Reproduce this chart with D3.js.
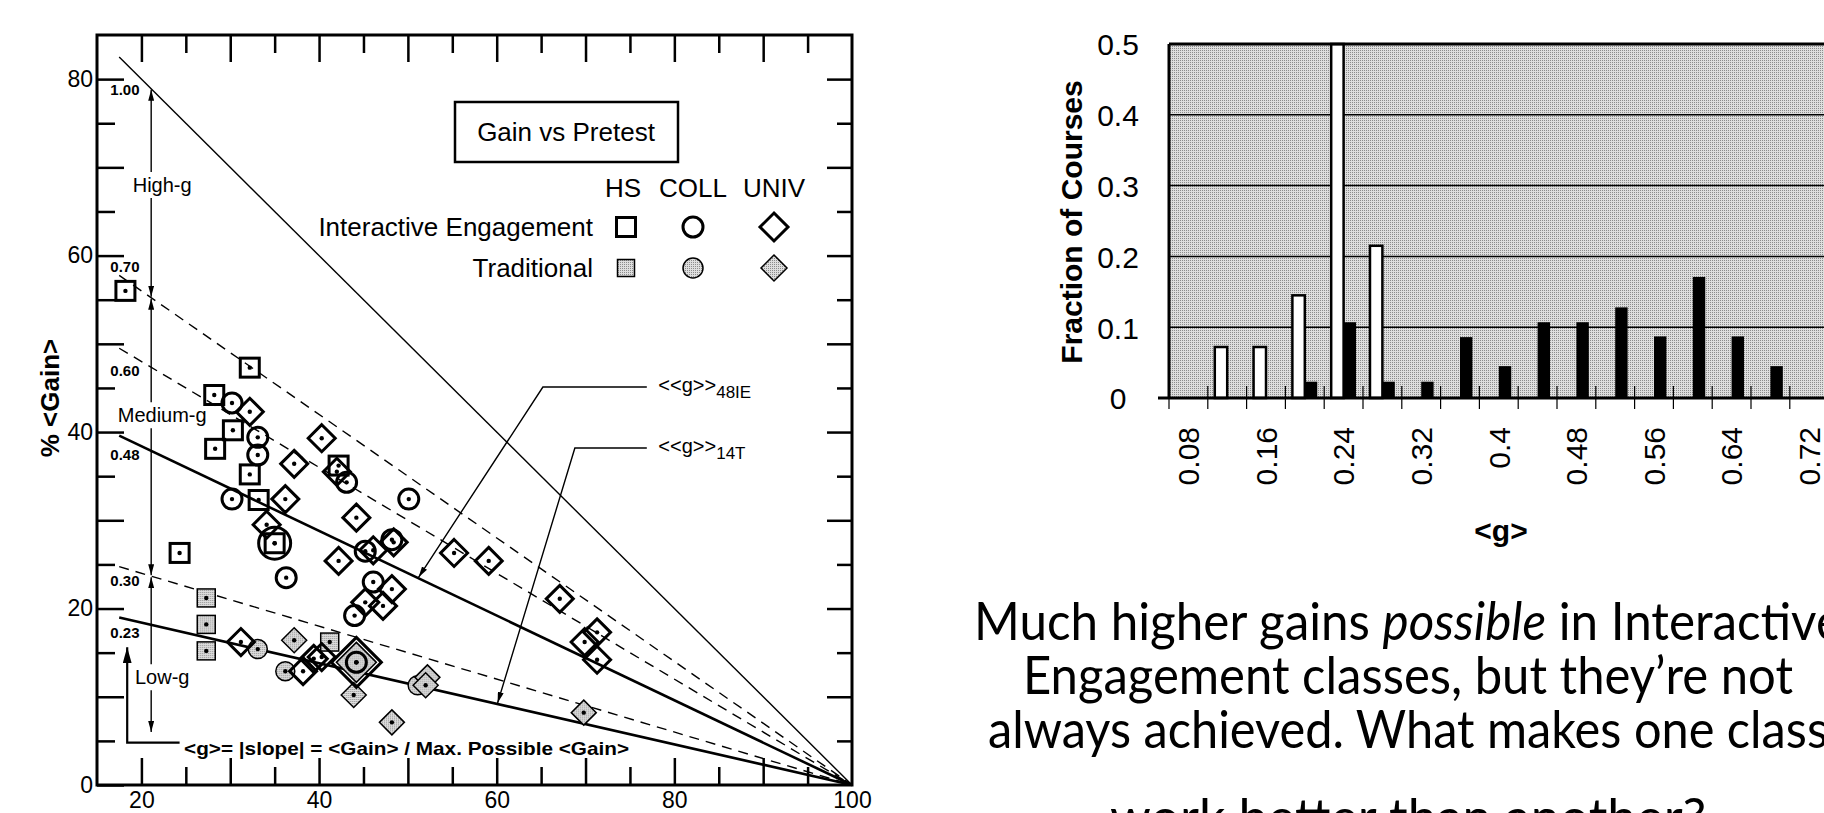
<!DOCTYPE html>
<html lang="en">
<head>
<meta charset="UTF-8">
<script src="https://d3js.org/d3.v7.min.js"></script>
<title>Gain vs Pretest</title>
<style>
  body { margin: 0; background: #fff; overflow: hidden; }
  svg text { font-family: "Liberation Sans", Arial, Helvetica, sans-serif; }
</style>
</head>
<body>
<script>
// ---- scatter: % <Gain> vs pretest ----
var ieHS = [[18.2,56.0],[32.2,47.3],[28.2,44.2],[30.3,40.2],[28.3,38.1],[32.2,35.2],[42.2,36.2],[33.2,32.3],[35.0,27.4],[24.3,26.3]];
var ieColl = [[30.2,43.3],[33.1,39.4],[33.1,37.4],[43.1,34.3],[30.2,32.4],[36.3,23.5],[50.1,32.4],[45.2,26.5],[48.2,27.8],[46.1,23.0],[44.0,19.2],[44.2,13.9]];
var ieCollLarge = [[35.0,27.4]];
var ieUniv = [[32.2,42.3],[40.3,39.3],[37.2,36.4],[42.0,35.5],[36.2,32.4],[44.2,30.3],[34.1,29.5],[42.2,25.4],[46.1,26.6],[48.4,27.5],[48.2,22.2],[45.2,20.7],[47.2,20.3],[31.2,16.2],[38.2,12.9],[39.4,14.3],[40.3,14.5],[55.2,26.3],[59.1,25.4],[67.1,21.1],[71.3,17.3],[69.9,16.2],[71.3,14.2]];
var ieUnivLarge = [[44.2,13.9]];
var trHS = [[27.3,21.2],[27.3,18.2],[27.3,15.2],[41.2,16.2]];
var trColl = [[33.1,15.4],[36.2,12.9],[51.1,11.3]];
var trUniv = [[37.2,16.4],[52.2,12.2],[52.0,11.3],[43.9,10.2],[48.2,7.1],[69.8,8.2]];
var trUnivLarge = [[44.2,13.9]];

var gSlopes = [1.00, 0.70, 0.60, 0.48, 0.30, 0.23];
var gMeans = [0.48, 0.23];
var gTickLabels = ["1.00", "0.70", "0.60", "0.48", "0.30", "0.23"];
var gTickY = [78.8, 58.7, 47.0, 37.4, 23.2, 17.2];
var gRegions = ["High-g", "Medium-g", "Low-g"];
var gRegionBounds = [[1.00, 0.70], [0.70, 0.30], [0.30, 0.075]];
var gRegionLabelY = [68.0, 41.9, 12.2];

// ---- histogram: fraction of courses per <g> bin ----
var gBins = [0.08,0.12,0.16,0.20,0.24,0.28,0.32,0.36,0.40,0.44,0.48,0.52,0.56,0.60,0.64,0.68,0.72];
var tradFraction = [0,0.072,0.072,0.145,0.5,0.215,0,0,0,0,0,0,0,0,0,0,0];
var ieFraction = [0,0,0,0.023,0.107,0.023,0.023,0.086,0.045,0.107,0.107,0.128,0.087,0.171,0.087,0.045,0];
var binLabels = ["0.08","0.16","0.24","0.32","0.4","0.48","0.56","0.64","0.72"];
var fracTicks = [0, 0.1, 0.2, 0.3, 0.4, 0.5];

var svg = d3.select("body").append("svg").attr("width", 1824).attr("height", 813);
var defs = svg.append("defs");

var pat = defs.append("pattern").attr("id", "stip")
  .attr("width", 2).attr("height", 2).attr("patternUnits", "userSpaceOnUse");
pat.append("rect").attr("width", 2).attr("height", 2).attr("fill", "#dedede");
pat.append("rect").attr("width", 1).attr("height", 1).attr("fill", "#8c8c8c");

function arrowDef(id, len, wid) {
  defs.append("marker").attr("id", id)
    .attr("viewBox", "0 0 " + len + " " + wid)
    .attr("refX", len).attr("refY", wid / 2)
    .attr("markerWidth", len).attr("markerHeight", wid)
    .attr("markerUnits", "userSpaceOnUse")
    .attr("orient", "auto-start-reverse")
    .append("path").attr("d", "M0,0L" + len + "," + (wid / 2) + "L0," + wid + "Z").attr("fill", "#000");
}
arrowDef("arr", 11, 6);
arrowDef("bigArr", 16, 9);

// =================== left: scatter ===================
var sx = d3.scaleLinear().domain([15, 100]).range([97, 852]);
var sy = d3.scaleLinear().domain([0, 85]).range([785, 35]);
var sc = svg.append("g");

function tickSet(axisFn, vals, len, tr, fmt) {
  var a = axisFn.tickValues(vals).tickSizeInner(-len).tickSizeOuter(0).tickPadding(6)
    .tickFormat(fmt || function () { return ""; });
  var g = sc.append("g").attr("transform", tr).call(a);
  g.select(".domain").remove();
  g.selectAll("line").attr("stroke", "#000").attr("stroke-width", 2.5);
  g.attr("font-family", null).attr("font-size", 23);
  return g;
}
var every20 = function (d) { return d % 20 === 0 ? d : ""; };
tickSet(d3.axisBottom(sx), d3.range(20, 100, 10), 27, "translate(0,785)", every20).selectAll("text").attr("dy", "0.74em");
tickSet(d3.axisBottom(sx), d3.range(25, 100, 10), 18, "translate(0,785)");
tickSet(d3.axisBottom(sx), [100], 0, "translate(0,785)", every20).selectAll("text").attr("dy", "0.74em");
tickSet(d3.axisTop(sx), d3.range(20, 100, 10), 27, "translate(0,35)");
tickSet(d3.axisTop(sx), d3.range(25, 100, 10), 18, "translate(0,35)");
tickSet(d3.axisLeft(sy), d3.range(0, 81, 10), 27, "translate(97,0)", every20).selectAll("text").attr("dx", "2");
tickSet(d3.axisLeft(sy), d3.range(5, 81, 10), 18, "translate(97,0)");
tickSet(d3.axisRight(sy), d3.range(10, 81, 10), 25, "translate(852,0)");
tickSet(d3.axisRight(sy), d3.range(5, 81, 10), 15, "translate(852,0)");

sc.append("rect").attr("x", sx(15)).attr("y", sy(85))
  .attr("width", sx(100) - sx(15)).attr("height", sy(0) - sy(85))
  .attr("fill", "none").attr("stroke", "#000").attr("stroke-width", 3);

// g = gain / max possible gain lines, all meeting at (100, 0)
var x0 = 17.5;
var gLine = d3.line().x(function (d) { return sx(d[0]); }).y(function (d) { return sy(d[1]); });
gSlopes.forEach(function (s) {
  var mean = gMeans.indexOf(s) >= 0;
  sc.append("path").attr("d", gLine([[x0, s * (100 - x0)], [100, 0]]))
    .attr("fill", "none").attr("stroke", "#000")
    .attr("stroke-width", mean ? 2.6 : 1.4)
    .attr("stroke-dasharray", (s === 1 || mean) ? null : "10,7");
});
sc.selectAll("text.glab").data(gTickLabels).enter().append("text")
  .attr("class", "glab")
  .attr("x", sx(16.5)).attr("y", function (d, i) { return sy(gTickY[i]); })
  .attr("dy", "0.35em").attr("font-size", 15).attr("font-weight", "bold")
  .text(function (d) { return d; });

// High / Medium / Low region arrows
var ax = 21.1;
gRegions.forEach(function (name, i) {
  var yTop = sy(gRegionBounds[i][0] * (100 - ax));
  var yBot = i === 2 ? sy(5.9) : sy(gRegionBounds[i][1] * (100 - ax));
  var yl = sy(gRegionLabelY[i]);
  sc.append("line").attr("x1", sx(ax)).attr("x2", sx(ax))
    .attr("y1", yl - 13).attr("y2", yTop + 1)
    .attr("stroke", "#000").attr("stroke-width", 1.4).attr("marker-end", "url(#arr)");
  sc.append("line").attr("x1", sx(ax)).attr("x2", sx(ax))
    .attr("y1", yl + 13).attr("y2", yBot - 1)
    .attr("stroke", "#000").attr("stroke-width", 1.4).attr("marker-end", "url(#arr)");
  sc.append("text").attr("x", sx(ax) + 11).attr("y", yl).attr("dy", "0.35em")
    .attr("text-anchor", "middle").attr("font-size", 20).text(name);
});

// definition of <g> with L-shaped arrow
sc.append("path")
  .attr("d", "M" + sx(24.3) + "," + sy(4.8) + "H" + sx(18.4) + "V" + sy(15.6))
  .attr("fill", "none").attr("stroke", "#000").attr("stroke-width", 2.2)
  .attr("marker-end", "url(#bigArr)");
sc.append("text").attr("x", sx(24.8)).attr("y", sy(3.4))
  .attr("font-size", 19).attr("font-weight", "bold")
  .attr("textLength", 445).attr("lengthAdjust", "spacingAndGlyphs")
  .text("<g>= |slope| = <Gain> / Max. Possible <Gain>");

// pointers to the average lines
[{ s: 0.48, tip: 51.2, knee: [65.2, 45.1], sub: "48IE" },
 { s: 0.23, tip: 60.1, knee: [68.8, 38.2], sub: "14T" }].forEach(function (a) {
  sc.append("path")
    .attr("d", "M" + sx(76.9) + "," + sy(a.knee[1]) + "H" + sx(a.knee[0]) +
      "L" + sx(a.tip) + "," + (sy(a.s * (100 - a.tip)) - 1))
    .attr("fill", "none").attr("stroke", "#000").attr("stroke-width", 1.4)
    .attr("marker-end", "url(#arr)");
  var t = sc.append("text").attr("x", sx(78.2)).attr("y", sy(a.knee[1]) + 5).attr("font-size", 20);
  t.append("tspan").text("<<g>>");
  t.append("tspan").attr("dy", 6).attr("font-size", 17).text(a.sub);
});

// markers
function mark(g, shape, cx, cy, half, open, dot) {
  var m = g.append("g").attr("transform", "translate(" + cx + "," + cy + ")");
  var el;
  if (shape === "square") {
    el = m.append("rect").attr("x", -half).attr("y", -half).attr("width", 2 * half).attr("height", 2 * half);
  } else if (shape === "circle") {
    el = m.append("circle").attr("r", half);
  } else {
    el = m.append("path").attr("d", "M0," + (-half) + "L" + half + ",0L0," + half + "L" + (-half) + ",0Z");
  }
  el.attr("fill", open ? "none" : "url(#stip)").attr("stroke", "#000").attr("stroke-width", open ? 3 : 1.5);
  if (dot) m.append("circle").attr("r", 2.2).attr("fill", "#000");
}
var mk = sc.append("g");
function plot(data, shape, half, open) {
  data.forEach(function (d) { mark(mk, shape, sx(d[0]), sy(d[1]), half, open, true); });
}
plot(trUnivLarge, "diamond", 20, false);
plot(trHS, "square", 9, false);
plot(trColl, "circle", 9.5, false);
plot(trUniv, "diamond", 12.5, false);
plot(ieUnivLarge, "diamond", 25, true);
plot(ieCollLarge, "circle", 16, true);
plot(ieHS, "square", 9.5, true);
plot(ieColl, "circle", 10, true);
plot(ieUniv, "diamond", 13.5, true);

// legend
sc.append("rect").attr("x", 455).attr("y", 102).attr("width", 223).attr("height", 60)
  .attr("fill", "#fff").attr("stroke", "#000").attr("stroke-width", 2.5);
sc.append("text").attr("x", 566).attr("y", 141).attr("text-anchor", "middle")
  .attr("font-size", 26).text("Gain vs Pretest");
var legCols = [["HS", "square", 623], ["COLL", "circle", 693], ["UNIV", "diamond", 774]];
legCols.forEach(function (c) {
  sc.append("text").attr("x", c[2]).attr("y", 197).attr("text-anchor", "middle")
    .attr("font-size", 26).text(c[0]);
  var hIE = { square: 9.5, circle: 10, diamond: 14 }[c[1]];
  var hT = { square: 8.5, circle: 10, diamond: 13 }[c[1]];
  mark(sc, c[1], c[2] + (c[1] === "square" ? 3 : 0), 227, hIE, true, false);
  mark(sc, c[1], c[2] + (c[1] === "square" ? 3 : 0), 268, hT, false, false);
});
sc.append("text").attr("x", 593).attr("y", 236).attr("text-anchor", "end")
  .attr("font-size", 26).text("Interactive Engagement");
sc.append("text").attr("x", 593).attr("y", 277).attr("text-anchor", "end")
  .attr("font-size", 26).text("Traditional");

sc.append("text").attr("transform", "translate(50,398) rotate(-90)")
  .attr("text-anchor", "middle").attr("dy", "0.35em")
  .attr("font-size", 26).attr("font-weight", "bold").text("% <Gain>");

// =================== right: histogram ===================
var bx = d3.scaleBand().domain(gBins).range([1169, 1169 + 17 * 38.8]);
var by = d3.scaleLinear().domain([0, 0.5]).range([398, 44]);
var bw = bx.bandwidth();
var hg = svg.append("g");

hg.append("rect").attr("x", bx.range()[0]).attr("y", by(0.5))
  .attr("width", bx.range()[1] - bx.range()[0]).attr("height", by(0) - by(0.5))
  .attr("fill", "url(#stip)");

hg.selectAll("line.grid").data(fracTicks.slice(1, 5)).enter().append("line")
  .attr("class", "grid")
  .attr("x1", bx.range()[0]).attr("x2", bx.range()[1])
  .attr("y1", function (d) { return by(d); }).attr("y2", function (d) { return by(d); })
  .attr("stroke", "#000").attr("stroke-width", 1.5);

// tick marks at bin edges
hg.selectAll("line.bt").data(d3.range(gBins.length + 1)).enter().append("line")
  .attr("class", "bt")
  .attr("x1", function (i) { return bx.range()[0] + i * bw; })
  .attr("x2", function (i) { return bx.range()[0] + i * bw; })
  .attr("y1", by(0) - 12).attr("y2", by(0) + 11)
  .attr("stroke", "#000").attr("stroke-width", 1.2);

hg.selectAll("rect.trad").data(gBins).enter().append("rect")
  .attr("class", "trad")
  .filter(function (d, i) { return tradFraction[i] > 0; })
  .attr("x", function (d) { return bx(d) + bw / 2 - 0.32 * bw; })
  .attr("y", function (d) { return by(tradFraction[gBins.indexOf(d)]); })
  .attr("width", 0.32 * bw)
  .attr("height", function (d) { return by(0) - by(tradFraction[gBins.indexOf(d)]); })
  .attr("fill", "#fff").attr("stroke", "#000").attr("stroke-width", 2.5);

hg.selectAll("rect.ie").data(gBins).enter().append("rect")
  .attr("class", "ie")
  .filter(function (d, i) { return ieFraction[i] > 0; })
  .attr("x", function (d) { return bx(d) + bw / 2; })
  .attr("y", function (d) { return by(ieFraction[gBins.indexOf(d)]); })
  .attr("width", 0.32 * bw)
  .attr("height", function (d) { return by(0) - by(ieFraction[gBins.indexOf(d)]); })
  .attr("fill", "#000");

// frame: top, left, baseline
hg.append("line").attr("x1", bx.range()[0]).attr("x2", bx.range()[1])
  .attr("y1", by(0.5)).attr("y2", by(0.5)).attr("stroke", "#000").attr("stroke-width", 3);
hg.append("line").attr("x1", bx.range()[0]).attr("x2", bx.range()[0])
  .attr("y1", by(0.5)).attr("y2", by(0)).attr("stroke", "#000").attr("stroke-width", 3);
hg.append("line").attr("x1", bx.range()[0] - 11).attr("x2", bx.range()[1])
  .attr("y1", by(0)).attr("y2", by(0)).attr("stroke", "#000").attr("stroke-width", 3);

var yAx = hg.append("g").attr("transform", "translate(" + bx.range()[0] + ",0)")
  .call(d3.axisLeft(by).tickValues(fracTicks).tickSize(0).tickFormat(d3.format(".1~f")));
yAx.select(".domain").remove();
yAx.attr("font-family", null).attr("font-size", 30);
yAx.selectAll("text").attr("x", -51).attr("text-anchor", "middle").attr("dy", "0.36em");

hg.selectAll("text.bl").data(binLabels).enter().append("text")
  .attr("class", "bl")
  .attr("transform", function (d) {
    return "translate(" + (bx(+d) + bw / 2) + ",427) rotate(-90)";
  })
  .attr("text-anchor", "end").attr("dy", "0.36em")
  .attr("font-size", 30).text(function (d) { return d; });

hg.append("text").attr("transform", "translate(1071,222) rotate(-90)")
  .attr("text-anchor", "middle").attr("dy", "0.36em")
  .attr("font-size", 30).attr("font-weight", "bold").text("Fraction of Courses");
hg.append("text").attr("x", 1501).attr("y", 541).attr("text-anchor", "middle")
  .attr("font-size", 30).attr("font-weight", "bold").text("<g>");

// =================== slide text ===================
var note = [
  { y: 640, len: 868, parts: [["Much higher gains ", 0], ["possible", 1], [" in Interactive", 0]] },
  { y: 694, len: 770, parts: [["Engagement classes, but they\u2019re not", 0]] },
  { y: 748, len: 840, parts: [["always achieved. What makes one class", 0]] },
  { y: 836, len: null, parts: [["work better than another?", 0]] }
];
note.forEach(function (l) {
  var t = svg.append("text").attr("x", 1408).attr("y", l.y).attr("text-anchor", "middle")
    .style("font-family", "Lato, 'Open Sans', sans-serif").attr("font-size", 52);
  if (l.len) t.attr("textLength", l.len).attr("lengthAdjust", "spacingAndGlyphs");
  l.parts.forEach(function (p) {
    t.append("tspan").attr("font-style", p[1] ? "italic" : null).text(p[0]);
  });
});
</script>
</body>
</html>
